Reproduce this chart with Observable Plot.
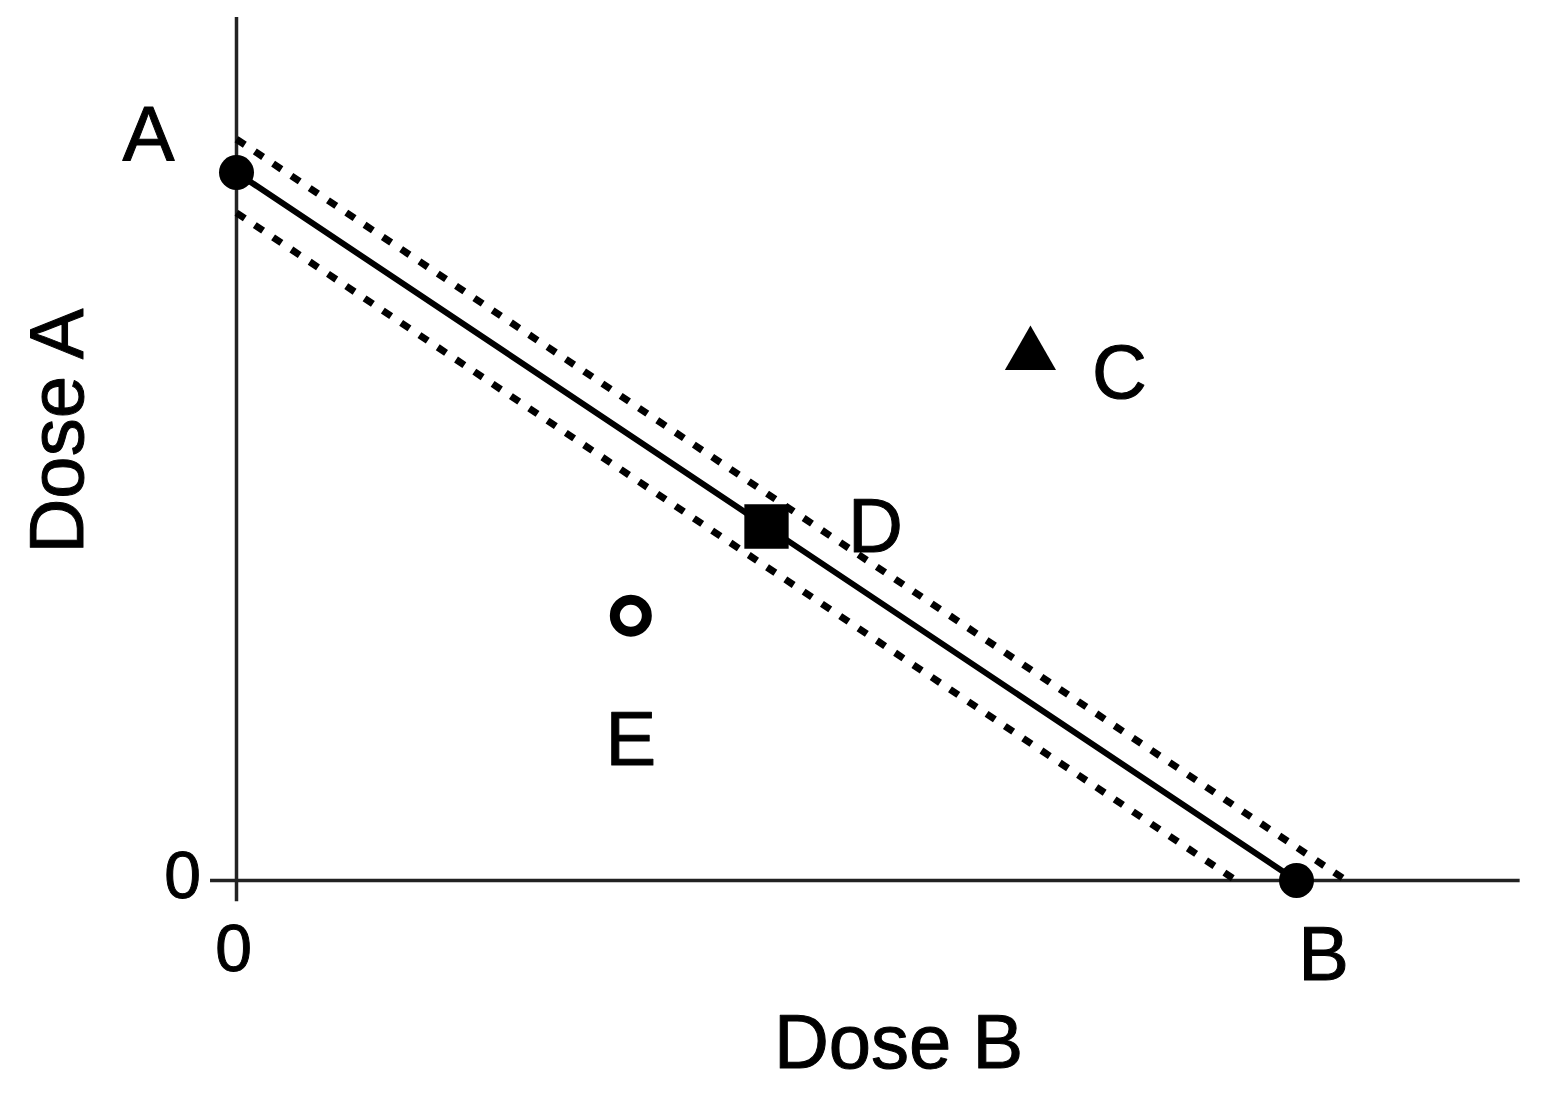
<!DOCTYPE html>
<html>
<head>
<meta charset="utf-8">
<script src="https://cdn.jsdelivr.net/npm/d3@7"></script>
<script src="https://cdn.jsdelivr.net/npm/@observablehq/plot@0.6"></script>
<style>
  html, body { margin: 0; padding: 0; background: #fff; }
  #chart svg { display: block; }
</style>
</head>
<body>
<div id="chart"></div>
<script>
// Additive isobole (solid) and its confidence band (dashed)
const isoboleX = [0, 1];
const isoboleY = [1, 0];
const upperX = [0, 1.047];
const upperY = [1.047, 0];
const lowerX = [0, 0.943];
const lowerY = [0.943, 0];

// Axis extents (data units)
const xAxisExtent = [-0.0245, 1.211];
const yAxisExtent = [-0.03, 1.219];

// Points
const pointNames = ["A", "B", "C", "D", "E"];
const pointX = [0, 1, 0.749, 0.5, 0.372];
const pointY = [1, 0, 0.742, 0.5, 0.374];

// Tick labels
const tickLabels = ["0"];

const toRows = (xs, ys) => xs.map((x, i) => ({x, y: ys[i]}));
const isobole = toRows(isoboleX, isoboleY);
const upper = toRows(upperX, upperY);
const lower = toRows(lowerX, lowerY);
const points = pointNames.map((n, i) => ({name: n, x: pointX[i], y: pointY[i]}));
const P = Object.fromEntries(points.map(d => [d.name, d]));

const font = "Liberation Sans, Arial, sans-serif";
const txt = {fill: "#000", stroke: "#000", strokeWidth: 1, lineAnchor: "middle", textAnchor: "middle"};

const chart = Plot.plot({
  width: 1548,
  height: 1095,
  margin: 0,
  style: {background: "#fff", fontFamily: font},
  x: {domain: [0, 1], range: [236, 1296], axis: null},
  y: {domain: [0, 1], range: [880, 172], axis: null},
  marks: [
    // axes
    Plot.ruleY([0], {x1: xAxisExtent[0], x2: xAxisExtent[1], stroke: "#222", strokeWidth: 3.5}),
    Plot.ruleX([0], {y1: yAxisExtent[0], y2: yAxisExtent[1], stroke: "#222", strokeWidth: 3.5}),
    // lines
    Plot.line(upper, {x: "x", y: "y", stroke: "#000", strokeWidth: 7, strokeDasharray: "10,12", strokeLinecap: "butt"}),
    Plot.line(lower, {x: "x", y: "y", stroke: "#000", strokeWidth: 7, strokeDasharray: "10,12", strokeLinecap: "butt"}),
    Plot.line(isobole, {x: "x", y: "y", stroke: "#000", strokeWidth: 6}),
    // markers
    Plot.dot([P.A, P.B], {x: "x", y: "y", r: 17.5, fill: "#000", stroke: "none"}),
    Plot.dot([P.D], {x: "x", y: "y", r: 25, symbol: "square", fill: "#000", stroke: "none"}),
    Plot.dot([P.C], {x: "x", y: "y", r: 19, symbol: "triangle", fill: "#000", stroke: "none"}),
    Plot.dot([P.E], {x: "x", y: "y", r: 16, fill: "#fff", stroke: "#000", strokeWidth: 10}),
    // point labels
    Plot.text([P.A], {x: "x", y: "y", text: "name", dx: -88, dy: -36, fontSize: 78, ...txt}),
    Plot.text([P.B], {x: "x", y: "y", text: "name", dx: 27, dy: 75, fontSize: 76, ...txt}),
    Plot.text([P.C], {x: "x", y: "y", text: "name", dx: 89, dy: 19, fontSize: 76, ...txt}),
    Plot.text([P.D], {x: "x", y: "y", text: "name", dx: 109, dy: 1, fontSize: 76, ...txt}),
    Plot.text([P.E], {x: "x", y: "y", text: "name", dx: 0, dy: 125, fontSize: 76, ...txt}),
    // tick labels
    Plot.text(tickLabels, {x: 0, y: 0, text: d => d, dx: -54, dy: -4, fontSize: 66, ...txt}),
    Plot.text(tickLabels, {x: 0, y: 0, text: d => d, dx: -3, dy: 69, fontSize: 66, ...txt}),
    // axis titles
    Plot.text(["Dose B"], {frameAnchor: "bottom", text: d => d, dx: 124, dy: -52, fontSize: 76, ...txt}),
    Plot.text(["Dose A"], {frameAnchor: "left", text: d => d, dx: 58, dy: -117, rotate: -90, fontSize: 76, ...txt})
  ]
});

document.getElementById("chart").appendChild(chart);
</script>
</body>
</html>
